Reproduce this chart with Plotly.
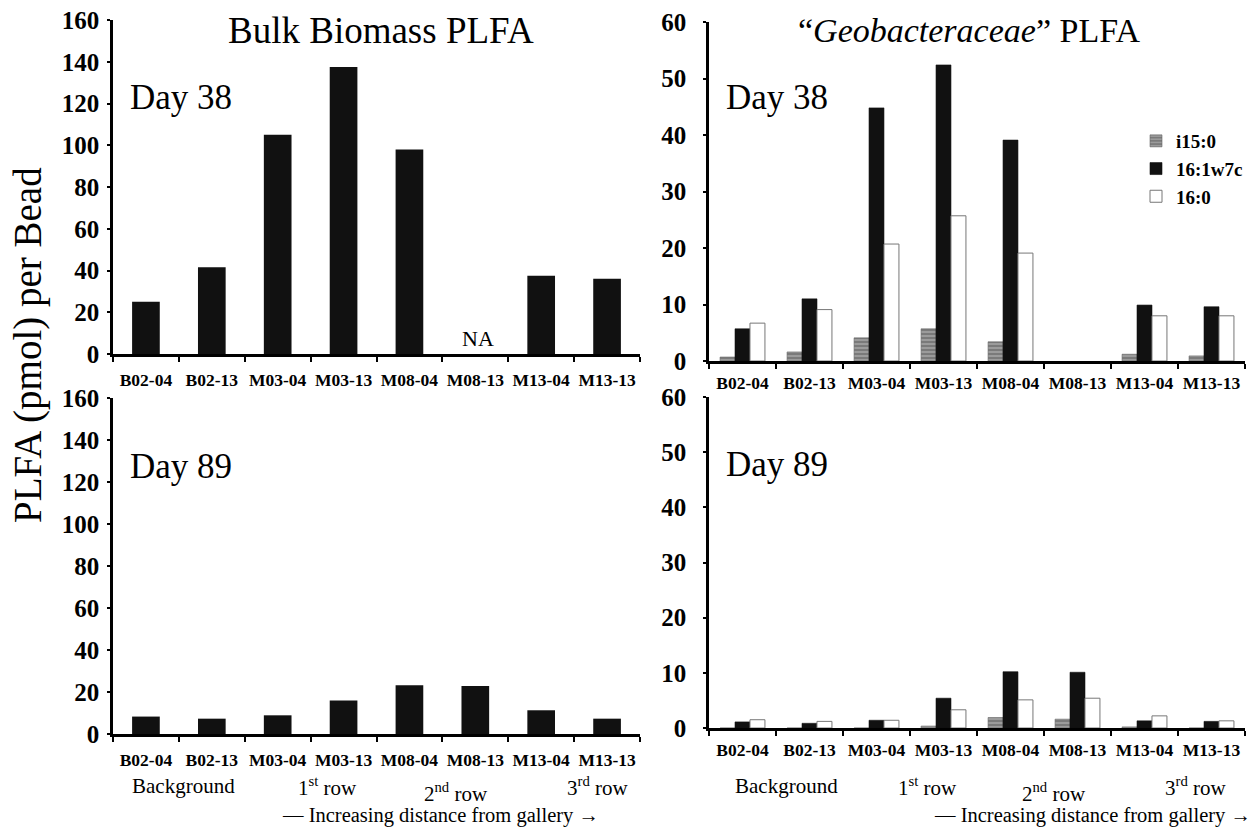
import plotly.graph_objects as go

# Sample sites (bead locations) along the transect
sites = ["B02-04", "B02-13", "M03-04", "M03-13", "M08-04", "M08-13", "M13-04", "M13-13"]

# Bulk biomass PLFA, pmol per bead (M08-13 not analysed on day 38)
bulk_day38 = [25, 41.5, 105, 137.5, 98, None, 37.5, 36]
bulk_day89 = [8.3, 7.3, 8.9, 16, 23.2, 22.9, 11.3, 7.3]

# Geobacteraceae signature PLFA, pmol per bead
i15_day38 = [0.7, 1.6, 4.1, 5.7, 3.4, None, 1.2, 0.9]
c161_day38 = [5.7, 11.0, 44.8, 52.4, 39.1, None, 9.9, 9.6]
c160_day38 = [6.7, 9.1, 20.7, 25.7, 19.1, None, 8.0, 8.0]
i15_day89 = [0, 0, 0, 0.35, 1.9, 1.6, 0.2, 0]
c161_day89 = [1.1, 0.85, 1.4, 5.4, 10.2, 10.1, 1.3, 1.2]
c160_day89 = [1.5, 1.2, 1.4, 3.3, 5.1, 5.4, 2.2, 1.3]

W, H = 1257, 829
SERIF = "Liberation Serif, Times New Roman, serif"


def px(x):
    return x / W


def py(y):
    return 1 - y / H


fig = go.Figure()

# --- bulk biomass panels ---
for vals, xa, ya in [(bulk_day38, "x", "y"), (bulk_day89, "x3", "y3")]:
    fig.add_trace(go.Bar(x=sites, y=vals, xaxis=xa, yaxis=ya, width=0.42,
                         marker=dict(color="#111111", line=dict(width=0)),
                         showlegend=False))

# --- Geobacteraceae panels ---
stripe = dict(shape="-", fgcolor="#c4c4c4", bgcolor="#7a7a7a", size=4, solidity=0.45)
for day, (i15, c161, c160), xa, ya in [
    (38, (i15_day38, c161_day38, c160_day38), "x2", "y2"),
    (89, (i15_day89, c161_day89, c160_day89), "x4", "y4"),
]:
    show = day == 38
    fig.add_trace(go.Bar(x=sites, y=i15, xaxis=xa, yaxis=ya, name="i15:0",
                         marker=dict(color="#7a7a7a", pattern=stripe,
                                     line=dict(width=0.6, color="#666666")),
                         showlegend=show, legendgroup="i15"))
    fig.add_trace(go.Bar(x=sites, y=c161, xaxis=xa, yaxis=ya, name="16:1w7c",
                         marker=dict(color="#111111", line=dict(width=0.6, color="#111111")),
                         showlegend=show, legendgroup="c161"))
    fig.add_trace(go.Bar(x=sites, y=c160, xaxis=xa, yaxis=ya, name="16:0",
                         marker=dict(color="#ffffff", line=dict(width=1, color="#777777")),
                         showlegend=show, legendgroup="c160"))

xcommon = dict(type="category", range=[-0.5, 7.5], showline=True, linecolor="black",
               linewidth=2.5, ticks="outside", ticklen=5, tickwidth=2, tickcolor="black",
               tickson="boundaries", showgrid=False, zeroline=False, automargin=False,
               tickangle=0,
               tickfont=dict(family=SERIF, size=17.5, color="black", weight="bold"))
ycommon = dict(showline=True, linecolor="black", linewidth=2.5, ticks="outside",
               ticklen=3, tickwidth=2, tickcolor="black", showgrid=False, zeroline=False,
               automargin=False,
               tickfont=dict(family=SERIF, size=25, color="black", weight="bold"))

fig.update_layout(
    width=W, height=H, margin=dict(l=0, r=0, t=0, b=0, autoexpand=False),
    paper_bgcolor="white", plot_bgcolor="rgba(0,0,0,0)",
    barmode="group", bargap=0.33, bargroupgap=0,
    font=dict(family=SERIF, color="black"),
    xaxis=dict(xcommon, domain=[px(113), px(640)], anchor="y", ticklabelstandoff=8),
    yaxis=dict(ycommon, domain=[py(354), py(20)], anchor="x", range=[0, 160], dtick=20,
               ticklabelstandoff=3),
    xaxis2=dict(xcommon, domain=[px(709), px(1245)], anchor="y2", ticklabelstandoff=4),
    yaxis2=dict(ycommon, domain=[py(361), py(22)], anchor="x2", range=[0, 60], dtick=10,
                ticklabelstandoff=12),
    xaxis3=dict(xcommon, domain=[px(113), px(640)], anchor="y3", ticklabelstandoff=8),
    yaxis3=dict(ycommon, domain=[py(734), py(398)], anchor="x3", range=[0, 160], dtick=20,
                ticklabelstandoff=3),
    xaxis4=dict(xcommon, domain=[px(709), px(1245)], anchor="y4", ticklabelstandoff=4),
    yaxis4=dict(ycommon, domain=[py(728), py(397)], anchor="x4", range=[0, 60], dtick=10,
                ticklabelstandoff=12),
    legend=dict(x=px(1136), y=py(122), xanchor="left", yanchor="top",
                font=dict(family=SERIF, size=19, color="black", weight="bold"),
                bgcolor="rgba(0,0,0,0)", itemwidth=30, tracegroupgap=0),
)


def label(text, x, y, size, xanchor="center", angle=0, bold=False):
    fig.add_annotation(text=text, x=px(x), y=py(y), xref="paper", yref="paper",
                       xanchor=xanchor, yanchor="middle", showarrow=False, textangle=angle,
                       font=dict(family=SERIF, size=size, color="black",
                                 weight="bold" if bold else "normal"))


# Panel titles
label("Bulk Biomass PLFA", 381, 30, 37)
label("\u201c<i>Geobacteraceae</i>\u201d PLFA", 969, 30, 34)

# Sampling day labels
label("Day 38", 128, 97, 35, xanchor="left")
label("Day 38", 724, 97, 35, xanchor="left")
label("Day 89", 128, 466, 35, xanchor="left")
label("Day 89", 724, 464, 35, xanchor="left")

label("NA", 478, 338, 22)

# Shared y-axis title
label("PLFA (pmol) per Bead", 28, 345, 39, angle=-90)

# Row grouping beneath the lower panels
for x0, x1, x2, x3, xa in [(183, 327, 456, 597, 440), (786, 927, 1054, 1195, 1092)]:
    label("Background", x0, 786, 21)
    label("1<sup>st</sup> row", x1, 786, 21)
    label("2<sup>nd</sup> row", x2, 792, 21)
    label("3<sup>rd</sup> row", x3, 786, 21)
    label("\u2014 Increasing distance from gallery \u2192", xa, 815, 20.5)

fig.write_html("out.html")
